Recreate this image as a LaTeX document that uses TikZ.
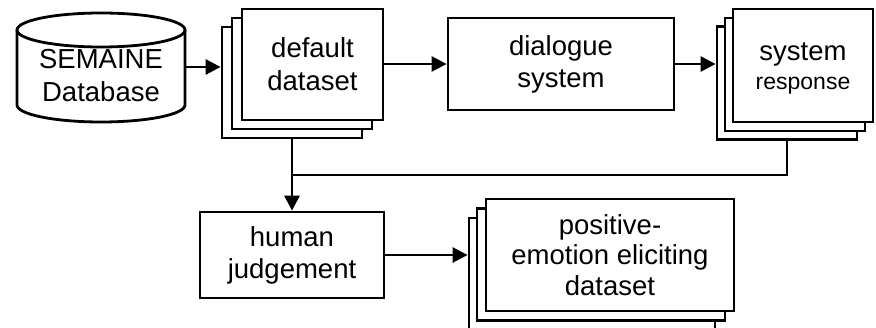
\documentclass[tikz,border=0pt]{standalone}
\usepackage{fontspec}
\setmainfont{Liberation Sans}
\usetikzlibrary{arrows.meta,calc}

\begin{document}
\begin{tikzpicture}[x=1pt,y=1pt,
  boxline/.style={line width=2.8pt},
  plainbox/.style={boxline, draw=black, fill=white, align=center, inner sep=0pt,
    font=\fontsize{27.5}{32}\selectfont},
  sheet/.style={boxline, draw=black, fill=white, inner sep=0pt},
  flow/.style={line width=2.8pt, -{Triangle[length=15pt,width=15pt]}},
  link/.style={line width=2.2pt},
]
\useasboundingbox (0,0) rectangle (876,-328);

% database cylinder
\node[minimum width=168pt, minimum height=110pt, inner sep=0pt, align=center,
      font=\fontsize{27.5}{33}\selectfont] (db) at (101,-76) {SEMAINE\\Database};
\draw[boxline] (17,-30) -- (17,-105) arc[start angle=180, end angle=360, x radius=84, y radius=17]
  -- (185,-30);
\draw[boxline] (101,-30) ellipse[x radius=84, y radius=17];

% default dataset (stack of sheets)
\node[sheet, minimum width=140pt, minimum height=111pt] (dd3) at (292,-82.5) {};
\node[sheet, minimum width=140pt, minimum height=111pt] (dd2) at (302,-73.5) {};
\node[plainbox, minimum width=141pt, minimum height=111pt,
      font=\fontsize{27.5}{33}\selectfont] (dd1) at (312.5,-64.5) {default\\dataset};

% dialogue system
\node[plainbox, minimum width=226pt, minimum height=92pt] (ds) at (561,-64) {dialogue\\system};

% system response (stack of sheets)
\node[sheet, minimum width=140pt, minimum height=113pt] (sr3) at (787,-83) {};
\node[sheet, minimum width=140pt, minimum height=113pt] (sr2) at (795,-74.5) {};
\node[sheet, minimum width=140pt, minimum height=113pt] (sr1) at (803,-65.5) {};
\node[align=center, inner sep=0pt, font=\fontsize{27.5}{32}\selectfont] (srtext)
  at ($(sr1.center)+(0,-3)$) {system\\[-3pt]{\fontsize{23}{28}\selectfont response}};

% human judgement
\node[plainbox, minimum width=184pt, minimum height=86pt] (hj) at (292,-255) {human\\judgement};

% positive-emotion eliciting dataset (stack of sheets)
\node[sheet, minimum width=246pt, minimum height=112pt] (pe3) at (592,-274) {};
\node[sheet, minimum width=248pt, minimum height=112pt] (pe2) at (601,-264.5) {};
\node[plainbox, minimum width=248pt, minimum height=112pt,
      font=\fontsize{27.5}{30.5}\selectfont] (pe1) at (610,-255)
  {positive-\\emotion eliciting\\dataset};

% connectors
\coordinate (j) at ($(dd3.south)!0.5!(hj.north)$);
\draw[flow] (db.east |- 0,-67) -- (dd3.west |- 0,-67);
\draw[flow] (dd1.east |- ds.west) -- (ds.west);
\draw[flow] (ds.east) -- (ds.east -| sr3.west);
\draw[flow] (dd3.south) -- (hj.north);
\draw[link] (sr3.south) |- (j);
\draw[flow] (hj.east) -- (hj.east -| pe3.west);
\end{tikzpicture}
\end{document}
